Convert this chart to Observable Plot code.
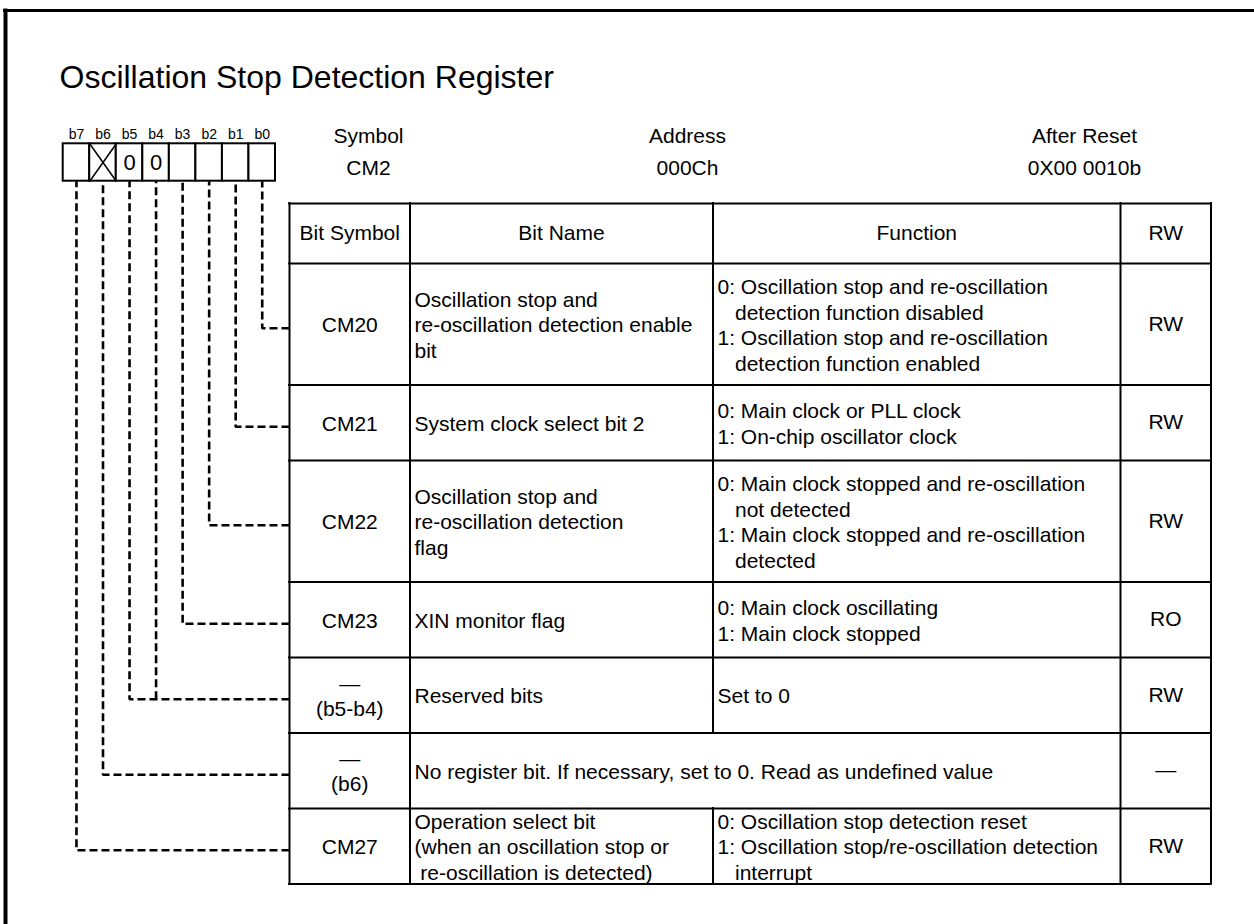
<!DOCTYPE html>
<html>
<head>
<meta charset="utf-8">
<script src="https://cdn.jsdelivr.net/npm/d3@7"></script>
<script src="https://cdn.jsdelivr.net/npm/@observablehq/plot@0.6"></script>
<style>
  html, body { margin: 0; padding: 0; background: #fff; }
</style>
</head>
<body>
<div id="chart"></div>
<script>
// ---------- data ----------
const title = "Oscillation Stop Detection Register";
const bitLabels = ["b7", "b6", "b5", "b4", "b3", "b2", "b1", "b0"];
const bitValues = ["", "none", "0", "0", "", "", "", ""];   // "none" = no register bit (crossed)
const headerFields = ["Symbol", "Address", "After Reset"];
const headerValues = ["CM2", "000Ch", "0X00 0010b"];
const columnHeaders = ["Bit Symbol", "Bit Name", "Function", "RW"];
const bitSymbols = ["CM20", "CM21", "CM22", "CM23", "—\n(b5-b4)", "—\n(b6)", "CM27"];
const bitNames = [
  "Oscillation stop and\nre-oscillation detection enable\nbit",
  "System clock select bit 2",
  "Oscillation stop and\nre-oscillation detection\nflag",
  "XIN monitor flag",
  "Reserved bits",
  "No register bit. If necessary, set to 0. Read as undefined value",
  "Operation select bit\n(when an oscillation stop or\n\u00a0re-oscillation is detected)"
];
const NB = "\u00a0\u00a0\u00a0";
const functions = [
  "0: Oscillation stop and re-oscillation\n" + NB + "detection function disabled\n1: Oscillation stop and re-oscillation\n" + NB + "detection function enabled",
  "0: Main clock or PLL clock\n1: On-chip oscillator clock",
  "0: Main clock stopped and re-oscillation\n" + NB + "not detected\n1: Main clock stopped and re-oscillation\n" + NB + "detected",
  "0: Main clock oscillating\n1: Main clock stopped",
  "Set to 0",
  null,                       // name spans the function column
  "0: Oscillation stop detection reset\n1: Oscillation stop/re-oscillation detection\n" + NB + "interrupt"
];
const access = ["RW", "RW", "RW", "RO", "RW", "—", "RW"];
const rowBits = [["b0"], ["b1"], ["b2"], ["b3"], ["b5", "b4"], ["b6"], ["b7"]];

// ---------- layout ----------
const W = 1254, H = 924;
const L = {
  frameLeft: 5, frameTop: 10,
  titleX: 59, titleBaseline: 87,
  boxLeft: 62.7, boxRight: 275, boxTop: 143.3, boxBottom: 180.7, bitLabelBaseline: 138,
  headerCenters: [368, 687, 1084], headerLabelBaseline: 142.5, headerValueBaseline: 174,
  cols: [289, 409.5, 712.5, 1120, 1210.5],
  tableTop: 203, headRowH: 60, rowH: 75.5, tallRowH: 121.5,
  pad: 4.5, drop: 4
};
const FONT = 21;

const nLines = s => (s ? s.split("\n").length : 0);
const heights = bitSymbols.map((_, i) =>
  Math.max(nLines(bitNames[i]), nLines(functions[i])) >= 4 ? L.tallRowH : L.rowH);
const yEdges = [L.tableTop, L.tableTop + L.headRowH];
heights.forEach(h => yEdges.push(yEdges[yEdges.length - 1] + h));
const rows = bitSymbols.map((s, i) => ({
  symbol: s, name: bitNames[i], func: functions[i], rw: access[i], bits: rowBits[i],
  y0: yEdges[i + 1], y1: yEdges[i + 2], mid: (yEdges[i + 1] + yEdges[i + 2]) / 2
}));
const C = L.cols;
const colMid = k => (C[k] + C[k + 1]) / 2;

// bit cells
const cellW = (L.boxRight - L.boxLeft) / bitLabels.length;
const cells = bitLabels.map((b, i) => ({
  bit: b, value: bitValues[i],
  x1: L.boxLeft + i * cellW, x2: L.boxLeft + (i + 1) * cellW,
  cx: L.boxLeft + (i + 0.5) * cellW
}));
const cellOf = Object.fromEntries(cells.map(c => [c.bit, c]));
const crosses = cells.filter(c => c.value === "none").flatMap(c => [
  {x1: c.x1, y1: L.boxTop, x2: c.x2, y2: L.boxBottom},
  {x1: c.x1, y1: L.boxBottom, x2: c.x2, y2: L.boxTop}
]);

// connectors (start at the table, go left, then up to the bit)
const connectors = [];
rows.forEach(r => {
  const yy = r.mid + L.drop;
  r.bits.forEach((b, j) => {
    const c = cellOf[b];
    if (j === 0) connectors.push({bit: b, x: C[0], y: yy});
    connectors.push({bit: b, x: c.cx, y: yy});
    connectors.push({bit: b, x: c.cx, y: L.boxBottom});
  });
});

// table rules
const hLines = yEdges.map(y => ({y, x1: C[0], x2: C[4]}));
const vLines = [];
C.forEach((x, k) => {
  if (k !== 2) vLines.push({x, y1: yEdges[0], y2: yEdges[yEdges.length - 1]});
  else {
    vLines.push({x, y1: yEdges[0], y2: yEdges[1]});
    rows.forEach(r => { if (r.func !== null) vLines.push({x, y1: r.y0, y2: r.y1}); });
  }
});

// frame
const frameV = [{x: L.frameLeft, y1: L.frameTop - 1.5, y2: H}];
const frameH = [{y: L.frameTop, x1: L.frameLeft - 2, x2: W}];

const header = headerFields.map((f, i) => ({label: f, value: headerValues[i], x: L.headerCenters[i]}));
const colHead = columnHeaders.map((t, k) => ({t, x: colMid(k), y: (yEdges[0] + yEdges[1]) / 2}));

const chart = Plot.plot({
  width: W, height: H, margin: 0,
  x: {domain: [0, W], range: [0, W], axis: null},
  y: {domain: [0, H], range: [0, H], axis: null},
  style: {background: "white", color: "black", fontFamily: "'Liberation Sans', Arial, Helvetica, sans-serif"},
  marks: [
    // outer frame
    Plot.ruleX(frameV, {x: "x", y1: "y1", y2: "y2", stroke: "black", strokeWidth: 4}),
    Plot.ruleY(frameH, {y: "y", x1: "x1", x2: "x2", stroke: "black", strokeWidth: 3}),
    // title
    Plot.text([title], {x: L.titleX, y: L.titleBaseline, text: d => d, textAnchor: "start", lineAnchor: "bottom", fontSize: 32}),
    // bit labels and cells
    Plot.text(cells, {x: "cx", y: L.bitLabelBaseline, text: "bit", lineAnchor: "bottom", fontSize: 14}),
    Plot.rect(cells, {x1: "x1", x2: "x2", y1: L.boxTop, y2: L.boxBottom, fill: "white", stroke: "black", strokeWidth: 2}),
    Plot.link(crosses, {x1: "x1", y1: "y1", x2: "x2", y2: "y2", stroke: "black", strokeWidth: 1.5}),
    Plot.text(cells.filter(c => c.value === "0"), {x: "cx", y: (L.boxTop + L.boxBottom) / 2, text: "value", fontSize: 22}),
    // header fields
    Plot.text(header, {x: "x", y: L.headerLabelBaseline, text: "label", lineAnchor: "bottom", fontSize: FONT}),
    Plot.text(header, {x: "x", y: L.headerValueBaseline, text: "value", lineAnchor: "bottom", fontSize: FONT}),
    // connectors
    Plot.line(connectors, {x: "x", y: "y", z: "bit", stroke: "black", strokeWidth: 2.6,
      strokeDasharray: "8,4", strokeLinecap: "butt", strokeLinejoin: "miter", curve: "linear"}),
    // table
    Plot.rect([0], {x1: C[0], x2: C[4], y1: yEdges[0], y2: yEdges[yEdges.length - 1], fill: "white"}),
    Plot.ruleY(hLines, {y: "y", x1: "x1", x2: "x2", stroke: "black", strokeWidth: 2, strokeLinecap: "square"}),
    Plot.ruleX(vLines, {x: "x", y1: "y1", y2: "y2", stroke: "black", strokeWidth: 2, strokeLinecap: "square"}),
    Plot.text(colHead, {x: "x", y: "y", text: "t", fontSize: FONT}),
    Plot.text(rows, {x: colMid(0), y: "mid", text: "symbol", fontSize: FONT, lineHeight: 1.2}),
    Plot.text(rows, {x: C[1] + L.pad, y: "mid", text: "name", textAnchor: "start", fontSize: FONT, lineHeight: 1.22}),
    Plot.text(rows.filter(r => r.func !== null), {x: C[2] + L.pad, y: "mid", text: "func", textAnchor: "start", fontSize: FONT, lineHeight: 1.22}),
    Plot.text(rows, {x: colMid(3), y: "mid", text: "rw", fontSize: FONT})
  ]
});
document.getElementById("chart").appendChild(chart);
</script>
</body>
</html>
